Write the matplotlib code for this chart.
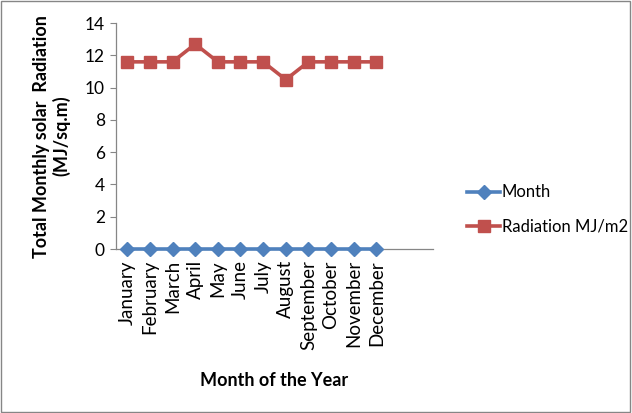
import matplotlib
matplotlib.use("Agg")
import matplotlib.pyplot as plt
from matplotlib.patches import Rectangle

months = ["January", "February", "March", "April", "May", "June", "July",
          "August", "September", "October", "November", "December"]
month_series = [0, 0, 0, 0, 0, 0, 0, 0, 0, 0, 0, 0]
radiation = [11.6, 11.6, 11.6, 12.7, 11.6, 11.6, 11.6, 10.5, 11.6, 11.6, 11.6, 11.6]
y_ticks = [0, 2, 4, 6, 8, 10, 12, 14]

plt.rcParams["font.family"] = ["Lato", "DejaVu Sans"]

fig = plt.figure(figsize=(6.32, 4.13), dpi=100)
ax = fig.add_axes([0.1835, 0.397, 0.5015, 0.547])

x = list(range(len(months)))
ax.plot(x, month_series, color="#4F81BD", lw=2.6, marker="D", ms=7.5,
        label="Month", clip_on=False, zorder=3)
ax.plot(x, radiation, color="#C0504D", lw=2.6, marker="s", ms=8.5,
        label="Radiation MJ/m2", clip_on=False, zorder=3)

ax.set_xlim(-0.5, 13.5)
ax.set_ylim(0, 14)
ax.set_yticks(y_ticks)
ax.set_xticks(x)
ax.set_xticklabels(months, rotation=90, fontsize=13.5)
ax.tick_params(axis="y", labelsize=12.5, length=4, color="#868686", pad=4)
ax.tick_params(axis="x", length=0, pad=8)

for s in ("top", "right"):
    ax.spines[s].set_visible(False)
for s in ("left", "bottom"):
    ax.spines[s].set_color("#868686")
    ax.spines[s].set_linewidth(0.9)

ax.set_ylabel("Total Monthly solar  Radiation\n(MJ/sq.m)", fontsize=13,
              fontweight="bold", labelpad=10)
ax.set_xlabel("Month of the Year", fontsize=13, fontweight="bold", labelpad=16)

leg = ax.legend(loc="center left", bbox_to_anchor=(1.06, 0.175), frameon=False,
                fontsize=12, handlelength=2.0, handletextpad=0.1,
                labelspacing=1.1)

fig.patches.append(Rectangle((0.002, 0.003), 0.995, 0.994, transform=fig.transFigure,
                             fill=False, edgecolor="#868686", lw=1))

fig.savefig("out.png", dpi=100)
